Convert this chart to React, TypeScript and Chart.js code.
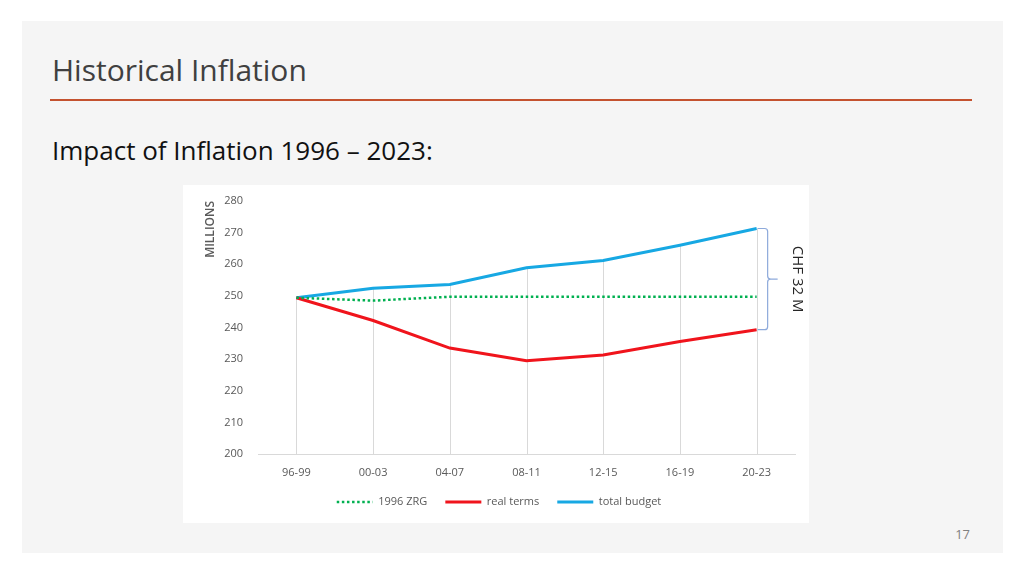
import React, { useEffect, useRef } from "react";
import { Chart, registerables } from "chart.js";

Chart.register(...registerables);

const categories = ["96-99", "00-03", "04-07", "08-11", "12-15", "16-19", "20-23"];
const zrgValues = [249.4, 248.5, 249.7, 249.7, 249.7, 249.7, 249.7];
const realTermsValues = [249.4, 242.2, 233.5, 229.5, 231.3, 235.6, 239.3];
const totalBudgetValues = [249.4, 252.4, 253.6, 258.9, 261.2, 266.0, 271.3];
const seriesNames = ["1996 ZRG", "real terms", "total budget"];
const yMin = 200;
const yMax = 280;
const yStep = 10;

const FONT = "'Open Sans', 'Noto Sans', sans-serif";

const dropLines = {
  id: "dropLines",
  beforeDatasetsDraw(chart: any) {
    const { ctx, chartArea, scales } = chart;
    const x = scales.x;
    const y = scales.y;
    ctx.save();
    ctx.strokeStyle = "#d9d9d9";
    ctx.lineWidth = 1;
    categories.forEach((_, i) => {
      const max = Math.max(...chart.data.datasets.map((d: any) => d.data[i] as number));
      const px = Math.round(x.getPixelForValue(i)) + 0.5;
      ctx.beginPath();
      ctx.moveTo(px, y.getPixelForValue(max));
      ctx.lineTo(px, chartArea.bottom);
      ctx.stroke();
    });
    ctx.restore();
  },
};

const bracket = {
  id: "bracket",
  afterDatasetsDraw(chart: any) {
    const { ctx, scales } = chart;
    const x = scales.x;
    const y = scales.y;
    const last = categories.length - 1;
    const x0 = x.getPixelForValue(last);
    const yTop = y.getPixelForValue(totalBudgetValues[last]);
    const yBot = y.getPixelForValue(realTermsValues[last]);
    const yMid = (yTop + yBot) / 2;
    const bx = x0 + 11;
    const r = 3;
    ctx.save();
    ctx.strokeStyle = "#8eaadb";
    ctx.lineWidth = 1.2;
    ctx.beginPath();
    ctx.moveTo(x0 + 1, yTop);
    ctx.lineTo(bx - r, yTop);
    ctx.quadraticCurveTo(bx, yTop, bx, yTop + r);
    ctx.lineTo(bx, yMid - r);
    ctx.quadraticCurveTo(bx, yMid, bx + r, yMid);
    ctx.lineTo(bx + 10, yMid);
    ctx.moveTo(bx + r, yMid);
    ctx.quadraticCurveTo(bx, yMid, bx, yMid + r);
    ctx.lineTo(bx, yBot - r);
    ctx.quadraticCurveTo(bx, yBot, bx - r, yBot);
    ctx.lineTo(x0 + 1, yBot);
    ctx.stroke();
    const diff = Math.round(totalBudgetValues[last] - realTermsValues[last]);
    ctx.translate(x0 + 41, yMid);
    ctx.rotate(Math.PI / 2);
    ctx.textAlign = "center";
    ctx.textBaseline = "middle";
    ctx.font = `15px ${FONT}`;
    ctx.fillStyle = "#262626";
    ctx.fillText(`CHF ${diff} M`, 0, 0);
    ctx.restore();
  },
};

function InflationChart() {
  const ref = useRef<HTMLCanvasElement | null>(null);
  useEffect(() => {
    if (!ref.current) return;
    const chart = new Chart(ref.current, {
      type: "line",
      data: {
        labels: categories,
        datasets: [
          {
            label: seriesNames[0],
            data: zrgValues,
            borderColor: "#00b050",
            backgroundColor: "#00b050",
            borderWidth: 2.5,
            borderDash: [2.5, 2.6],
            pointRadius: 0,
            tension: 0,
          },
          {
            label: seriesNames[1],
            data: realTermsValues,
            borderColor: "#f0141c",
            backgroundColor: "#f0141c",
            borderWidth: 3,
            pointRadius: 0,
            tension: 0,
          },
          {
            label: seriesNames[2],
            data: totalBudgetValues,
            borderColor: "#17a8e3",
            backgroundColor: "#17a8e3",
            borderWidth: 3,
            pointRadius: 0,
            tension: 0,
          },
        ],
      },
      options: {
        animation: false,
        responsive: false,
        maintainAspectRatio: false,
        layout: { padding: { left: 20, right: 14, top: 16, bottom: 5.5 } },
        plugins: {
          tooltip: { enabled: false },
          legend: {
            position: "bottom",
            labels: {
              usePointStyle: true,
              pointStyle: "line",
              pointStyleWidth: 36,
              padding: 18,
              color: "#595959",
              font: { family: FONT, size: 11 },
              generateLabels: (c: any) => {
                const items = (Chart.defaults as any).plugins.legend.labels.generateLabels(c);
                return items.map((it: any, i: number) => {
                  const ds: any = c.data.datasets[i];
                  return {
                    ...it,
                    lineWidth: ds.borderWidth,
                    lineDash: ds.borderDash || [],
                    lineCap: "butt",
                    strokeStyle: ds.borderColor,
                    fillStyle: ds.borderColor,
                  };
                });
              },
            },
          },
        },
        scales: {
          x: {
            type: "category",
            offset: true,
            grid: { display: false, drawTicks: false },
            border: { display: true, color: "#d9d9d9", width: 1 },
            ticks: { color: "#595959", padding: 12, font: { family: FONT, size: 11 } },
            afterFit: (s: any) => {
              s.height = 24.5;
            },
          },
          y: {
            min: yMin,
            max: yMax,
            grid: { display: false, drawTicks: false },
            border: { display: false },
            ticks: { stepSize: yStep, color: "#595959", padding: 15, font: { family: FONT, size: 11 } },
            title: {
              display: true,
              text: "MILLIONS",
              align: "end",
              color: "#595959",
              padding: { top: 0, bottom: 0 },
              font: { family: FONT, size: 12, weight: "600" },
            },
            afterFit: (s: any) => {
              s.width = 55;
              s.paddingTop = 0;
              s.paddingBottom = 0;
            },
          },
        },
      },
      plugins: [dropLines, bracket],
    } as any);
    return () => chart.destroy();
  }, []);
  return <canvas ref={ref} width={626} height={338} style={{ display: "block", width: 626, height: 338 }} />;
}

export default function App() {
  return (
    <div style={{ position: "absolute", left: 0, top: 0, width: 1024, height: 575, background: "#ffffff", overflow: "hidden" }}>
      <div style={{ position: "absolute", left: 22, top: 21, width: 981, height: 532, background: "#f5f5f5" }} />
      <div
        style={{
          position: "absolute",
          left: 52,
          top: 55,
          fontFamily: FONT,
          fontSize: 30,
          lineHeight: 1,
          color: "#404040",
          whiteSpace: "nowrap",
        }}
      >
        Historical Inflation
      </div>
      <div style={{ position: "absolute", left: 50, top: 99, width: 922, height: 2, background: "#c4522f" }} />
      <div
        style={{
          position: "absolute",
          left: 52,
          top: 137,
          fontFamily: FONT,
          fontSize: 26,
          lineHeight: 1,
          color: "#111111",
          whiteSpace: "nowrap",
        }}
      >
        Impact of Inflation 1996 – 2023:
      </div>
      <div style={{ position: "absolute", left: 183, top: 185, width: 626, height: 338, background: "#ffffff" }}>
        <InflationChart />
      </div>
      <div
        style={{
          position: "absolute",
          right: 1024 - 970,
          top: 528,
          fontFamily: FONT,
          fontSize: 13,
          lineHeight: 1,
          color: "#808080",
        }}
      >
        17
      </div>
    </div>
  );
}
